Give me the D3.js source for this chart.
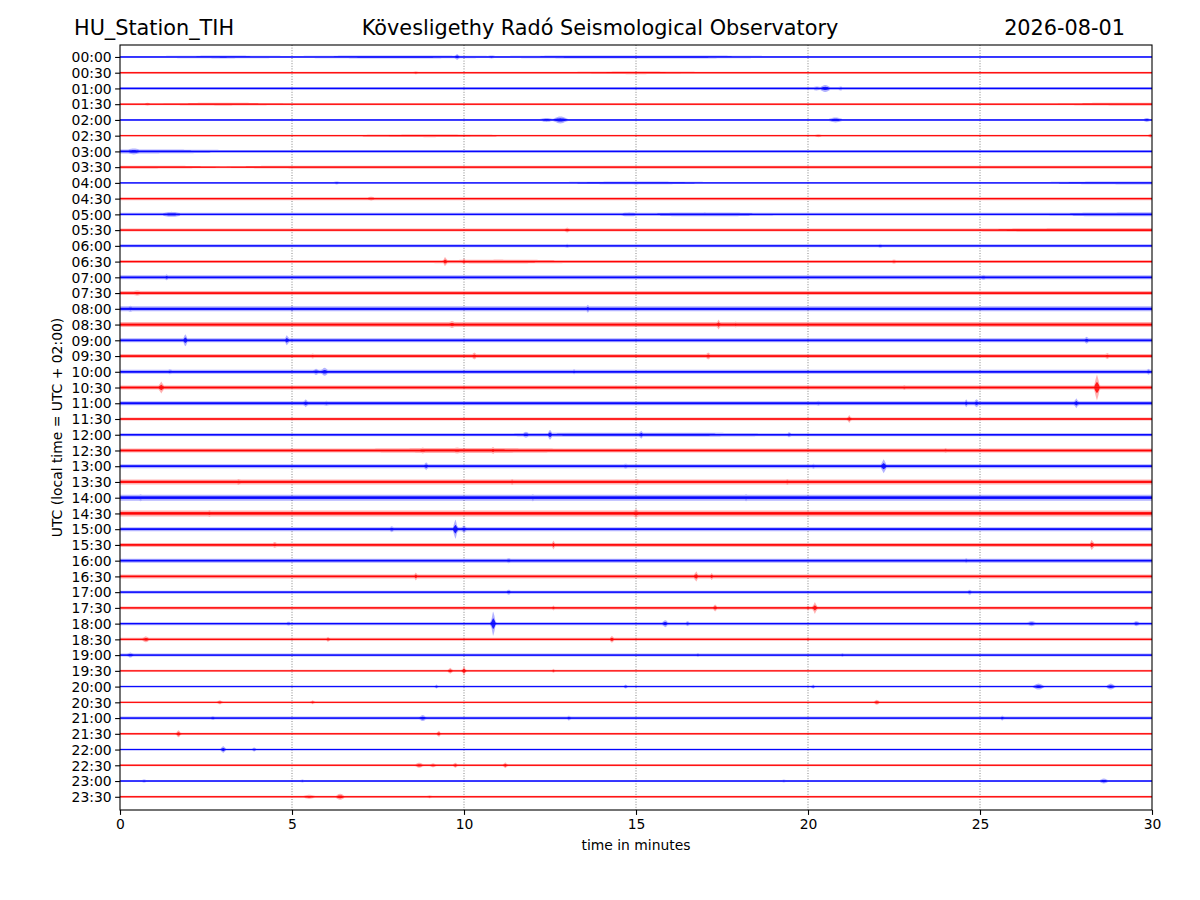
<!DOCTYPE html>
<html>
<head>
<meta charset="utf-8">
<script src="https://cdn.jsdelivr.net/npm/d3@7"></script>
<style>
  body { margin: 0; background: #fff; }
  text { font-family: "DejaVu Sans", sans-serif; }
</style>
</head>
<body>
<svg id="heli" width="1200" height="900"></svg>
<script>
// row labels (UTC, start of each 30 minute line)
var rowLabels = [
  "00:00","00:30","01:00","01:30","02:00","02:30","03:00","03:30",
  "04:00","04:30","05:00","05:30","06:00","06:30","07:00","07:30",
  "08:00","08:30","09:00","09:30","10:00","10:30","11:00","11:30",
  "12:00","12:30","13:00","13:30","14:00","14:30","15:00","15:30",
  "16:00","16:30","17:00","17:30","18:00","18:30","19:00","19:30",
  "20:00","20:30","21:00","21:30","22:00","22:30","23:00","23:30"
];
var rowColors = ["#0000ff", "#ff0000"];
var minuteTicks = [0, 5, 10, 15, 20, 25, 30];

// background noise half-amplitude per 2 minute bin (counts), one string per row
var noiseLevel = [
  "232332333222222", "222222232222222", "333333333333333", "232222222222223",
  "222222222222222", "222232222222222", "433333333333333", "323333333333333",
  "222222232222223", "333333333333333", "333333334333334", "333333333333344",
  "333333333333333", "333334333333333", "444444444444444", "444444444444444",
  "555555555555555", "555555555555555", "444444444444444", "444444444444444",
  "444444444444444", "444444444444444", "444444444444444", "333333333333333",
  "333333444333333", "444455444444444", "444444444444444", "555555555555555",
  "666666666666666", "666666666666666", "444444444444444", "444444444444444",
  "444444444444444", "444444444444444", "333333333333333", "333333333333333",
  "333333333333333", "333333333333333", "333333333333333", "222222222222222",
  "222222222222222", "222222222222222", "333333333333333", "222222222222222",
  "222222222222222", "222222222222222", "222222222222222", "222222222222222"
];

// events: [row, minute, half-amplitude (counts), duration (min)]
var events = [
  [0, 9.8, 6, 0.06], [0, 10.8, 3, 0.15],
  [1, 8.6, 3, 0.1],
  [2, 20.25, 4, 0.15], [2, 20.5, 7, 0.15], [2, 20.95, 4, 0.08],
  [3, 0.8, 3, 0.1],
  [4, 12.4, 4, 0.2], [4, 12.8, 7, 0.2], [4, 20.8, 5, 0.2], [4, 29.85, 4, 0.1],
  [5, 20.3, 3, 0.1], [5, 29.95, 4, 0.05],
  [6, 0.4, 6, 0.25], [6, 1.1, 4, 0.4], [6, 3.4, 3, 0.2],
  [7, 5.8, 3, 0.1],
  [8, 6.3, 3, 0.1], [8, 29.7, 3, 0.1],
  [9, 7.3, 4, 0.15], [9, 15.3, 3, 0.1],
  [10, 1.5, 5, 0.35], [10, 14.8, 4, 0.4], [10, 29.6, 4, 0.3],
  [11, 13.0, 5, 0.08], [11, 18.7, 3, 0.08], [11, 30.0, 4, 0.05],
  [12, 13.0, 4, 0.08], [12, 22.1, 4, 0.1], [12, 22.8, 3, 0.1],
  [13, 9.45, 9, 0.05], [13, 10.0, 6, 0.05], [13, 22.5, 4, 0.08],
  [14, 1.35, 6, 0.05], [14, 7.8, 4, 0.1], [14, 25.1, 5, 0.1],
  [15, 0.5, 5, 0.2], [15, 3.2, 4, 0.15], [15, 29.5, 4, 0.1],
  [16, 0.3, 6, 0.1], [16, 5.0, 6, 0.1], [16, 13.6, 8, 0.05], [16, 18.0, 5, 0.1],
  [17, 9.65, 7, 0.1], [17, 17.4, 10, 0.05], [17, 17.9, 6, 0.05], [17, 22.1, 5, 0.1],
  [18, 1.9, 12, 0.05], [18, 4.85, 10, 0.05], [18, 28.1, 7, 0.05],
  [19, 5.6, 5, 0.05], [19, 10.3, 7, 0.05], [19, 17.1, 7, 0.05], [19, 28.7, 6, 0.05],
  [20, 1.45, 5, 0.08], [20, 5.7, 6, 0.1], [20, 5.95, 8, 0.1], [20, 13.2, 5, 0.08], [20, 29.9, 6, 0.05],
  [21, 1.2, 12, 0.06], [21, 22.8, 5, 0.05], [21, 28.4, 26, 0.06],
  [22, 5.4, 8, 0.06], [22, 6.0, 5, 0.1], [22, 20.3, 5, 0.06], [22, 24.6, 8, 0.05],
  [22, 24.9, 8, 0.05], [22, 27.8, 10, 0.05],
  [23, 21.2, 8, 0.05],
  [24, 11.8, 6, 0.1], [24, 12.5, 10, 0.05], [24, 15.15, 8, 0.05], [24, 19.45, 5, 0.06],
  [25, 8.8, 6, 0.1], [25, 9.8, 6, 0.15], [25, 10.85, 7, 0.05], [25, 24.0, 5, 0.08],
  [26, 8.9, 8, 0.04], [26, 14.7, 5, 0.08], [26, 20.15, 5, 0.06], [26, 22.2, 14, 0.06],
  [27, 3.45, 6, 0.08], [27, 11.4, 6, 0.08], [27, 15.05, 6, 0.06], [27, 19.4, 6, 0.06],
  [28, 0.6, 7, 0.08], [28, 6.5, 6, 0.08], [28, 12.0, 7, 0.08], [28, 18.2, 7, 0.05], [28, 27.35, 6, 0.06],
  [29, 2.6, 7, 0.08], [29, 8.15, 6, 0.1], [29, 15.0, 9, 0.08], [29, 28.8, 6, 0.06],
  [30, 7.9, 6, 0.06], [30, 9.75, 19, 0.05], [30, 10.0, 8, 0.06],
  [31, 4.5, 6, 0.05], [31, 12.6, 9, 0.04], [31, 28.25, 10, 0.05],
  [32, 11.3, 5, 0.08], [32, 24.6, 5, 0.06],
  [33, 8.6, 8, 0.05], [33, 16.75, 10, 0.05], [33, 17.2, 7, 0.05],
  [34, 11.3, 5, 0.08], [34, 24.7, 5, 0.06],
  [35, 12.6, 5, 0.05], [35, 17.3, 7, 0.05], [35, 20.0, 5, 0.05], [35, 20.2, 12, 0.05],
  [36, 4.9, 4, 0.06], [36, 10.85, 24, 0.05], [36, 15.85, 7, 0.08], [36, 16.5, 5, 0.05],
  [36, 26.5, 5, 0.15], [36, 29.55, 5, 0.1],
  [37, 0.75, 6, 0.1], [37, 6.05, 5, 0.05], [37, 14.3, 7, 0.05], [37, 20.0, 4, 0.05],
  [38, 0.3, 5, 0.1], [38, 16.8, 4, 0.06], [38, 21.0, 4, 0.06],
  [39, 9.6, 6, 0.06], [39, 10.0, 10, 0.04], [39, 12.6, 4, 0.05],
  [40, 9.2, 4, 0.05], [40, 14.7, 4, 0.05], [40, 20.15, 4, 0.05], [40, 26.7, 6, 0.15], [40, 28.8, 6, 0.12],
  [41, 2.9, 4, 0.08], [41, 5.6, 4, 0.05], [41, 22.0, 5, 0.08],
  [42, 2.7, 4, 0.08], [42, 8.8, 6, 0.1], [42, 13.05, 5, 0.06], [42, 25.65, 5, 0.05],
  [43, 1.7, 7, 0.06], [43, 9.27, 6, 0.05],
  [44, 3.0, 7, 0.06], [44, 3.9, 4, 0.06],
  [45, 8.7, 5, 0.12], [45, 9.1, 4, 0.1], [45, 9.75, 5, 0.06], [45, 11.2, 6, 0.05],
  [46, 0.7, 3, 0.1], [46, 5.3, 3, 0.05], [46, 19.3, 3, 0.05], [46, 28.6, 5, 0.12],
  [47, 5.5, 4, 0.2], [47, 6.4, 6, 0.12], [47, 9.0, 3, 0.1]
];

var stationName = "HU_Station_TIH";
var titleText = "Kövesligethy Radó Seismological Observatory";
var dateText = "2026-08-01";

/*
    MARGINS / SCALES
*/
var svgWidth = 1200, svgHeight = 900;
var margin = {top: 45, right: 48, bottom: 90, left: 120};
var width = svgWidth - margin.left - margin.right;
var height = svgHeight - margin.top - margin.bottom;

var xScale = d3.scaleLinear().domain([0, 30]).range([0, width]);
var yScale = d3.scaleLinear().domain([-0.76, 47.84]).range([0, height]);
// counts -> pixels of deflection
var ampScale = d3.scaleLinear().domain([0, 1]).range([0, 0.5]);
// noise bins are 2 minutes wide, centred at 1, 3, ... 29
var binCentres = d3.range(15).map(function(i) { return i * 2 + 1; });

var svg = d3.select("#heli");

svg.append("defs").append("clipPath").attr("id", "plotclip")
  .append("rect").attr("width", width).attr("height", height);

var g = svg.append("g")
  .attr("transform", "translate(" + margin.left + "," + margin.top + ")");

// dotted vertical grid
g.append("g").selectAll("line")
  .data(minuteTicks.slice(1, -1))
  .join("line")
  .attr("x1", function(d) { return xScale(d); })
  .attr("x2", function(d) { return xScale(d); })
  .attr("y1", 0).attr("y2", height)
  .attr("stroke", "#333")
  .attr("stroke-width", 0.6)
  .attr("stroke-dasharray", "1,1.6");

/*
    TRACES
*/
var traces = g.append("g").attr("clip-path", "url(#plotclip)");

rowLabels.forEach(function(label, row) {
  var levels = noiseLevel[row].split("").map(Number);
  var noise = d3.scaleLinear().domain(binCentres).range(levels).clamp(true);
  var evs = events.filter(function(e) { return e[0] === row; });

  var times = d3.range(0, 30.0001, 0.04);
  evs.forEach(function(e) { times.push(e[1]); });
  times.sort(d3.ascending);

  var env = times.map(function(t) {
    var a = noise(t);
    evs.forEach(function(e) {
      var k = (t - e[1]) / e[3];
      a = Math.max(a, e[2] * Math.exp(-k * k));
    });
    return {t: t, a: a};
  });

  var y0 = yScale(row);
  var color = rowColors[row % 2];

  var outer = d3.area()
    .x(function(d) { return xScale(d.t); })
    .y0(function(d) { return y0 - ampScale(d.a); })
    .y1(function(d) { return y0 + ampScale(d.a); });
  var inner = d3.area()
    .x(function(d) { return xScale(d.t); })
    .y0(function(d) { return y0 - ampScale(d.a) * 0.45; })
    .y1(function(d) { return y0 + ampScale(d.a) * 0.45; });

  traces.append("path").datum(env)
    .attr("fill", color).attr("fill-opacity", 0.3).attr("d", outer);
  traces.append("path").datum(env)
    .attr("fill", color).attr("fill-opacity", 0.85).attr("d", inner);
  traces.append("line")
    .attr("x1", 0).attr("x2", width)
    .attr("y1", y0).attr("y2", y0)
    .attr("stroke", color).attr("stroke-width", 0.9);
});

/*
    AXES
*/
var xAxis = d3.axisBottom(xScale).tickValues(minuteTicks).tickSize(4.9).tickPadding(4.5);
var yAxis = d3.axisLeft(yScale)
  .tickValues(d3.range(rowLabels.length))
  .tickFormat(function(i) { return rowLabels[i]; })
  .tickSize(4.9).tickPadding(3.5);

var gx = g.append("g").attr("transform", "translate(0," + height + ")").call(xAxis);
var gy = g.append("g").call(yAxis);
[gx, gy].forEach(function(ax) {
  ax.select(".domain").remove();
  ax.selectAll("text").attr("font-family", "DejaVu Sans").attr("font-size", 13.9).attr("fill", "#000");
  ax.selectAll(".tick line").attr("stroke", "#000").attr("stroke-width", 1.1);
});
gy.selectAll("text").attr("dy", "0.34em");

g.append("rect")
  .attr("width", width).attr("height", height)
  .attr("fill", "none").attr("stroke", "#000").attr("stroke-width", 1.1);

svg.append("text")
  .attr("x", margin.left + width / 2).attr("y", 850)
  .attr("text-anchor", "middle").attr("font-size", 13.9)
  .text("time in minutes");

svg.append("text")
  .attr("transform", "translate(62," + (margin.top + height / 2) + ") rotate(-90)")
  .attr("text-anchor", "middle").attr("font-size", 13.9)
  .text("UTC (local time = UTC + 02:00)");

/*
    TITLES
*/
svg.append("text").attr("x", 74).attr("y", 35).attr("font-size", 20.8)
  .text(stationName);
svg.append("text").attr("x", 600).attr("y", 35).attr("font-size", 20.8)
  .attr("text-anchor", "middle").text(titleText);
svg.append("text").attr("x", 1125).attr("y", 35).attr("font-size", 20.8)
  .attr("text-anchor", "end").text(dateText);
</script>
</body>
</html>
